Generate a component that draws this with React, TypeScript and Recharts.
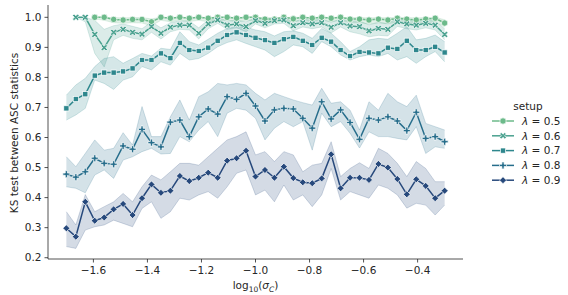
import React from "react";
import { Area, ComposedChart, Label, Line, XAxis, YAxis } from "recharts";

// log10(sigma_c) grid, 41 points
const X_VALUES = [
  -1.7, -1.665, -1.63, -1.595, -1.56, -1.525, -1.49, -1.455, -1.42, -1.385,
  -1.35, -1.315, -1.28, -1.245, -1.21, -1.175, -1.14, -1.105, -1.07, -1.035,
  -1.0, -0.965, -0.93, -0.895, -0.86, -0.825, -0.79, -0.755, -0.72, -0.685,
  -0.65, -0.615, -0.58, -0.545, -0.51, -0.475, -0.44, -0.405, -0.37, -0.335, -0.3,
];

const LAMBDAS = ["0.5", "0.6", "0.7", "0.8", "0.9"];
const COLORS = ["#6cba8a", "#4aa18f", "#2e878d", "#266d8b", "#27497c"];
const SHAPES = ["circle", "x", "square", "plus", "diamond"];

const MEAN_05 = [
  null, null, null, 1.0, 1.0, 0.993, 0.991, 0.993, 0.993, 0.985,
  1.0, 0.997, 1.0, 0.997, 1.0, 0.997, 1.0, 1.0, 0.997, 1.0,
  1.0, 0.994, 0.994, 1.0, 0.995, 1.0, 0.997, 1.0, 0.997, 1.0,
  0.994, 0.994, 0.991, 0.994, 0.991, 0.997, 0.994, 0.991, 0.994, 0.997, 0.981,
];
const LO_05 = [
  null, null, null, 0.995, 0.99, 0.982, 0.98, 0.982, 0.981, 0.972,
  0.99, 0.985, 0.99, 0.986, 0.99, 0.985, 0.99, 0.99, 0.985, 0.99,
  0.99, 0.982, 0.982, 0.99, 0.984, 0.99, 0.985, 0.99, 0.985, 0.99,
  0.982, 0.982, 0.978, 0.982, 0.978, 0.985, 0.982, 0.978, 0.982, 0.985, 0.968,
];
const HI_05 = [
  null, null, null, 1.0, 1.0, 0.999, 0.998, 0.999, 0.999, 0.995,
  1.0, 1.0, 1.0, 1.0, 1.0, 1.0, 1.0, 1.0, 1.0, 1.0,
  1.0, 0.999, 0.999, 1.0, 1.0, 1.0, 1.0, 1.0, 1.0, 1.0,
  0.999, 0.999, 0.998, 0.999, 0.998, 1.0, 0.999, 0.998, 0.999, 1.0, 0.992,
];

const MEAN_06 = [
  null, 1.0, 1.0, 0.943, 0.899, 0.95, 0.96, 0.95, 0.944, 0.969,
  0.947, 0.967, 0.974, 0.974, 0.947, 0.978, 0.991, 0.974, 0.978, 0.969,
  0.989, 0.98, 0.989, 0.991, 0.972, 0.982, 0.978, 0.982, 0.967, 0.982,
  0.971, 0.969, 0.955, 0.963, 0.96, 0.985, 0.978, 0.974, 0.98, 0.974, 0.943,
];
const LO_06 = [
  null, 1.0, 0.985, 0.88, 0.835, 0.925, 0.94, 0.93, 0.925, 0.95,
  0.928, 0.952, 0.96, 0.958, 0.928, 0.962, 0.98, 0.96, 0.965, 0.952,
  0.978, 0.965, 0.978, 0.98, 0.955, 0.968, 0.962, 0.968, 0.948, 0.968,
  0.952, 0.945, 0.935, 0.94, 0.938, 0.97, 0.962, 0.958, 0.965, 0.958, 0.925,
];
const HI_06 = [
  null, 1.0, 1.0, 0.99, 0.96, 0.972, 0.978, 0.97, 0.962, 0.985,
  0.965, 0.982, 0.988, 0.988, 0.965, 0.992, 1.0, 0.988, 0.99, 0.985,
  0.998, 0.992, 0.998, 0.999, 0.986, 0.994, 0.99, 0.994, 0.984, 0.994,
  0.988, 0.988, 0.975, 0.983, 0.98, 0.996, 0.99, 0.988, 0.992, 0.988, 0.962,
];

const MEAN_07 = [
  0.697, 0.728, 0.744, 0.806, 0.816, 0.816, 0.82, 0.83, 0.858, 0.858,
  0.88, 0.864, 0.915, 0.891, 0.888, 0.899, 0.922, 0.941, 0.95, 0.941,
  0.932, 0.924, 0.915, 0.927, 0.935, 0.922, 0.908, 0.932, 0.919, 0.891,
  0.871, 0.885, 0.883, 0.88, 0.899, 0.895, 0.922, 0.891, 0.891, 0.902, 0.883,
];
const LO_07 = [
  0.658, 0.675, 0.697, 0.791, 0.78, 0.76, 0.791, 0.802, 0.836, 0.825,
  0.852, 0.841, 0.88, 0.858, 0.863, 0.88, 0.902, 0.916, 0.925, 0.913,
  0.902, 0.891, 0.869, 0.886, 0.908, 0.902, 0.88, 0.919, 0.902, 0.875,
  0.858, 0.869, 0.875, 0.869, 0.88, 0.858, 0.869, 0.847, 0.869, 0.886, 0.852,
];
const HI_07 = [
  0.741, 0.775, 0.797, 0.836, 0.863, 0.869, 0.847, 0.863, 0.88, 0.871,
  0.897, 0.893, 0.952, 0.919, 0.908, 0.927, 0.947, 0.963, 0.969, 0.967,
  0.958, 0.952, 0.938, 0.952, 0.955, 0.947, 0.93, 0.963, 0.947, 0.919,
  0.886, 0.902, 0.925, 0.93, 0.927, 0.947, 0.969, 0.925, 0.93, 0.941, 0.919,
];

const MEAN_08 = [
  0.478, 0.468, 0.486, 0.531, 0.514, 0.511, 0.572, 0.561, 0.627, 0.583,
  0.569, 0.651, 0.658, 0.603, 0.669, 0.695, 0.678, 0.736, 0.727, 0.747,
  0.705, 0.655, 0.692, 0.697, 0.695, 0.664, 0.631, 0.719, 0.662, 0.692,
  0.65, 0.594, 0.664, 0.658, 0.669, 0.655, 0.623, 0.684, 0.597, 0.603, 0.586,
];
const LO_08 = [
  0.436, 0.431, 0.416, 0.475, 0.492, 0.464, 0.525, 0.536, 0.553, 0.564,
  0.545, 0.547, 0.603, 0.586, 0.625, 0.653, 0.603, 0.681, 0.697, 0.691,
  0.664, 0.592, 0.631, 0.653, 0.636, 0.653, 0.558, 0.681, 0.636, 0.653,
  0.614, 0.565, 0.619, 0.603, 0.603, 0.597, 0.592, 0.636, 0.547, 0.569, 0.564,
];
const HI_08 = [
  0.536, 0.503, 0.547, 0.592, 0.558, 0.564, 0.616, 0.575, 0.703, 0.603,
  0.603, 0.669, 0.725, 0.658, 0.736, 0.752, 0.78, 0.775, 0.78, 0.775,
  0.747, 0.725, 0.747, 0.736, 0.725, 0.716, 0.708, 0.764, 0.714, 0.719,
  0.691, 0.625, 0.719, 0.691, 0.747, 0.719, 0.703, 0.741, 0.647, 0.636, 0.625,
];

const MEAN_09 = [
  0.298, 0.27, 0.386, 0.323, 0.334, 0.361, 0.379, 0.342, 0.398, 0.444,
  0.416, 0.423, 0.472, 0.455, 0.466, 0.483, 0.466, 0.523, 0.531, 0.556,
  0.47, 0.492, 0.466, 0.503, 0.465, 0.451, 0.448, 0.464, 0.544, 0.431,
  0.466, 0.466, 0.459, 0.512, 0.5, 0.462, 0.411, 0.461, 0.439, 0.398, 0.423,
];
const LO_09 = [
  0.237, 0.231, 0.292, 0.303, 0.309, 0.325, 0.314, 0.303, 0.364, 0.386,
  0.331, 0.353, 0.398, 0.392, 0.409, 0.42, 0.398, 0.436, 0.481, 0.492,
  0.409, 0.425, 0.386, 0.442, 0.392, 0.409, 0.37, 0.409, 0.497, 0.392,
  0.42, 0.409, 0.398, 0.442, 0.431, 0.409, 0.365, 0.381, 0.375, 0.342, 0.375,
];
const HI_09 = [
  0.353, 0.309, 0.41, 0.353, 0.37, 0.386, 0.414, 0.386, 0.436, 0.475,
  0.459, 0.486, 0.514, 0.514, 0.508, 0.536, 0.564, 0.592, 0.603, 0.619,
  0.542, 0.553, 0.52, 0.553, 0.542, 0.486, 0.508, 0.514, 0.586, 0.47,
  0.497, 0.516, 0.497, 0.564, 0.547, 0.514, 0.47, 0.52, 0.497, 0.453, 0.453,
];

const X_TICKS = [-1.6, -1.4, -1.2, -1.0, -0.8, -0.6, -0.4];
const Y_TICKS = [0.2, 0.3, 0.4, 0.5, 0.6, 0.7, 0.8, 0.9, 1.0];

const SERIES = [
  { mean: MEAN_05, lo: LO_05, hi: HI_05 },
  { mean: MEAN_06, lo: LO_06, hi: HI_06 },
  { mean: MEAN_07, lo: LO_07, hi: HI_07 },
  { mean: MEAN_08, lo: LO_08, hi: HI_08 },
  { mean: MEAN_09, lo: LO_09, hi: HI_09 },
];

const data = X_VALUES.map((x, i) => {
  const row: Record<string, any> = { x };
  SERIES.forEach((s, k) => {
    row[`m${k}`] = s.mean[i];
    row[`b${k}`] = s.mean[i] == null ? null : [s.lo[i], s.hi[i]];
  });
  return row;
});

const FONT = "DejaVu Sans, sans-serif";
const INK = "#262626";

function plusPoints(cx: number, cy: number, h: number, a: number) {
  const p = [
    [-a, -h], [a, -h], [a, -a], [h, -a], [h, a], [a, a],
    [a, h], [-a, h], [-a, a], [-h, a], [-h, -a], [-a, -a],
  ];
  return p.map(([dx, dy]) => `${cx + dx},${cy + dy}`).join(" ");
}

function Marker({ shape, cx, cy, color }: { shape: string; cx: number; cy: number; color: string }) {
  const common = { fill: color, stroke: "#ffffff", strokeWidth: 0.7 };
  if (shape === "circle") return <circle cx={cx} cy={cy} r={3.2} {...common} />;
  if (shape === "square") return <rect x={cx - 2.6} y={cy - 2.6} width={5.2} height={5.2} {...common} />;
  if (shape === "diamond")
    return <polygon points={`${cx},${cy - 3.5} ${cx + 3.5},${cy} ${cx},${cy + 3.5} ${cx - 3.5},${cy}`} {...common} />;
  if (shape === "plus") return <polygon points={plusPoints(cx, cy, 3.5, 1.1)} {...common} />;
  return <polygon points={plusPoints(cx, cy, 3.6, 1.1)} transform={`rotate(45 ${cx} ${cy})`} {...common} />;
}

function Legend() {
  return (
    <svg width={90} height={100} style={{ position: "absolute", left: 480, top: 95 }}>
      <text x={48} y={15} textAnchor="middle" fontSize={10.5} fontFamily={FONT} fill={INK}>
        setup
      </text>
      {LAMBDAS.map((l, k) => {
        const y = 26 + k * 14.8;
        return (
          <g key={l}>
            <line x1={12} x2={34} y1={y} y2={y} stroke={COLORS[k]} strokeWidth={1.5} />
            <Marker shape={SHAPES[k]} cx={23} cy={y} color={COLORS[k]} />
            <text x={42} y={y + 3.7} fontSize={10.5} fontFamily={FONT} fill={INK}>
              <tspan fontStyle="italic">λ</tspan> = {l}
            </text>
          </g>
        );
      })}
    </svg>
  );
}

export default function App() {
  return (
    <div style={{ position: "relative", width: 568, height: 295, background: "#fff" }}>
      <style>{"body{margin:0}"}</style>
      <ComposedChart width={568} height={295} data={data} margin={{ top: 5, right: 105, bottom: 0, left: 0 }}>
        <XAxis
          dataKey="x"
          type="number"
          domain={[-1.768, -0.232]}
          ticks={X_TICKS}
          tickFormatter={(v: number) => v.toFixed(1).replace("-", "\u2212")}
          height={36}
          tickSize={3.5}
          tickMargin={4}
          tick={{ fontSize: 10.5, fill: INK, fontFamily: FONT }}
          axisLine={{ stroke: INK, strokeWidth: 0.8 }}
          tickLine={{ stroke: INK, strokeWidth: 0.8 }}
        >
          <Label
            content={() => (
              <text x={255.5} y={289} textAnchor="middle" fontSize={10.5} fontFamily={FONT} fill={INK}>
                log
                <tspan fontSize={7.5} dy={2.5}>10</tspan>
                <tspan dy={-2.5}>(</tspan>
                <tspan fontStyle="italic">σ</tspan>
                <tspan fontSize={7.5} dy={2.5} fontStyle="italic">C</tspan>
                <tspan dy={-2.5}>)</tspan>
              </text>
            )}
          />
        </XAxis>
        <YAxis
          type="number"
          domain={[0.1957, 1.041]}
          ticks={Y_TICKS}
          tickFormatter={(v: number) => v.toFixed(1)}
          width={48}
          tickSize={3.5}
          tickMargin={3}
          tick={{ fontSize: 10.5, fill: INK, fontFamily: FONT }}
          axisLine={{ stroke: INK, strokeWidth: 0.8 }}
          tickLine={{ stroke: INK, strokeWidth: 0.8 }}
        >
          <Label
            content={() => (
              <text
                x={13.5}
                y={133}
                transform="rotate(-90 13.5 133)"
                textAnchor="middle"
                dominantBaseline="central"
                fontSize={10.5}
                fontFamily={FONT}
                fill={INK}
              >
                KS test between ASC statistics
              </text>
            )}
          />
        </YAxis>
        {LAMBDAS.map((l, k) => (
          <Area
            key={`band-${l}`}
            type="linear"
            dataKey={`b${k}`}
            fill={COLORS[k]}
            fillOpacity={0.2}
            stroke={COLORS[k]}
            strokeOpacity={0.2}
            strokeWidth={1}
            isAnimationActive={false}
            activeDot={false}
            dot={false}
          />
        ))}
        {LAMBDAS.map((l, k) => (
          <Line
            key={`line-${l}`}
            type="linear"
            dataKey={`m${k}`}
            stroke={COLORS[k]}
            strokeWidth={1.5}
            isAnimationActive={false}
            activeDot={false}
            dot={(p: any) =>
              p.cx == null || p.cy == null || p.value == null ? (
                <g key={`d${k}-${p.index}`} />
              ) : (
                <Marker key={`d${k}-${p.index}`} shape={SHAPES[k]} cx={p.cx} cy={p.cy} color={COLORS[k]} />
              )
            }
          />
        ))}
      </ComposedChart>
      <Legend />
    </div>
  );
}
